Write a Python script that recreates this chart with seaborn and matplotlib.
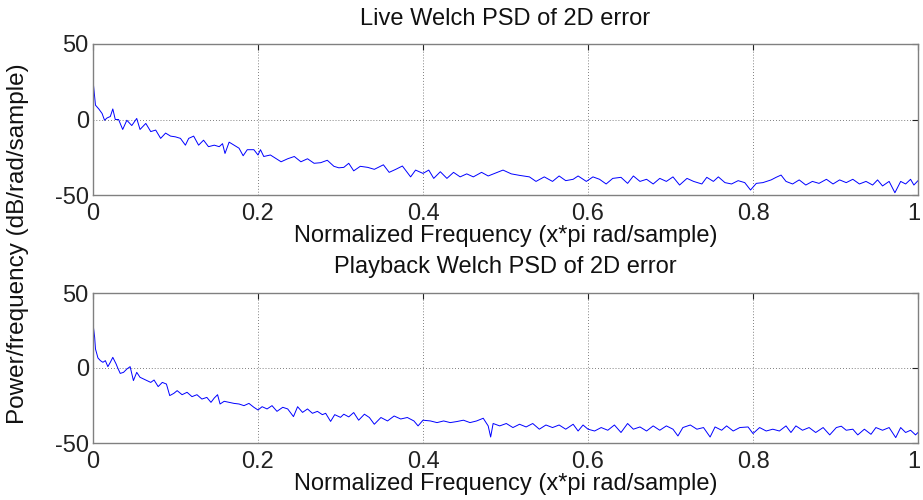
import matplotlib
matplotlib.use("Agg")
import matplotlib.pyplot as plt
import matplotlib.transforms as mtransforms
import seaborn as sns
import pandas as pd

# ---- data (normalized frequency, dB/rad/sample) ----
live_freq = [
    0.000, 0.003, 0.007, 0.011, 0.014, 0.017, 0.021, 0.024, 0.027, 0.031,
    0.036, 0.041, 0.047, 0.053, 0.057, 0.064, 0.070, 0.076, 0.082, 0.088,
    0.094, 0.100, 0.106, 0.112, 0.116, 0.122, 0.128, 0.134, 0.140, 0.147,
    0.153, 0.157, 0.160, 0.165, 0.171, 0.177, 0.182, 0.187, 0.195, 0.200,
    0.203, 0.207, 0.215, 0.228, 0.236, 0.244, 0.252, 0.260, 0.268, 0.276,
    0.284, 0.292, 0.298,
    0.304, 0.310, 0.316, 0.324, 0.333, 0.341, 0.352, 0.359, 0.367, 0.375,
    0.385, 0.391, 0.400, 0.407, 0.413, 0.421, 0.429, 0.437, 0.445, 0.453,
    0.461, 0.471, 0.479, 0.487, 0.497, 0.507, 0.517, 0.529, 0.537, 0.547,
    0.557, 0.565, 0.573, 0.582, 0.588, 0.598, 0.606, 0.614, 0.622, 0.630,
    0.640, 0.648,
    0.655, 0.663, 0.671, 0.679, 0.687, 0.695, 0.703, 0.711, 0.720, 0.728,
    0.738, 0.744, 0.752, 0.758, 0.766, 0.774, 0.782, 0.790, 0.797, 0.804,
    0.812, 0.822, 0.828, 0.834, 0.840, 0.848, 0.856, 0.864, 0.872, 0.880,
    0.889, 0.897, 0.905, 0.913, 0.921, 0.929, 0.937, 0.945, 0.951, 0.957,
    0.965, 0.972, 0.979, 0.985, 0.991, 0.995, 1.000,
]
live_db = [
    26.0, 9.5, 7.0, 4.0, -0.5, 1.0, 2.0, 7.0, 0.0, 0.0,
    -6.6, -0.5, -4.0, 0.7, -6.6, -2.6, -8.0, -7.0, -12.5, -9.0,
    -11.0, -11.5, -12.5, -17.0, -12.5, -11.0, -17.0, -13.7, -18.0, -17.0,
    -18.0, -16.0, -22.5, -15.0, -17.0, -19.0, -24.0, -20.0, -20.0, -23.5,
    -20.0, -24.5, -23.5, -28.0, -26.0, -24.5, -28.0, -26.0, -29.0, -28.6,
    -27.0, -31.0, -32.0,
    -31.7, -29.0, -34.0, -31.0, -31.7, -33.0, -30.0, -35.0, -33.0, -30.8,
    -38.0, -33.5, -35.7, -33.5, -39.0, -34.6, -39.0, -35.0, -38.0, -36.0,
    -38.0, -35.0, -37.4, -35.7, -33.5, -36.0, -37.0, -38.0, -41.0, -38.0,
    -41.0, -37.4, -40.5, -39.6, -37.4, -41.0, -38.0, -39.6, -42.7, -39.0,
    -38.3, -42.3,
    -37.4, -41.0, -39.6, -42.7, -39.0, -41.0, -38.0, -43.4, -39.0, -41.0,
    -42.7, -38.3, -41.0, -38.0, -41.8, -42.7, -40.5, -41.8, -46.7, -42.3,
    -41.8, -40.0, -38.3, -36.8, -41.0, -42.7, -40.0, -43.4, -41.0, -42.3,
    -39.6, -42.7, -40.0, -41.8, -39.6, -42.7, -41.0, -43.4, -40.0, -44.0,
    -41.0, -48.5, -41.0, -42.7, -39.6, -43.4, -40.5,
]

play_freq = [
    0.000, 0.002, 0.003, 0.006, 0.009, 0.012, 0.015, 0.018, 0.021, 0.024,
    0.028, 0.030, 0.033, 0.037, 0.041, 0.045, 0.049, 0.053, 0.057, 0.064,
    0.070, 0.074, 0.079, 0.084, 0.089, 0.093, 0.098, 0.102, 0.108, 0.114,
    0.120, 0.126, 0.132, 0.138, 0.143, 0.147, 0.151, 0.154, 0.159, 0.165,
    0.171, 0.177, 0.183, 0.189, 0.195, 0.200, 0.205, 0.211, 0.217, 0.223,
    0.230, 0.236, 0.243, 0.248, 0.254, 0.260, 0.266, 0.272, 0.278, 0.282,
    0.288, 0.293, 0.300,
    0.304, 0.310, 0.316, 0.322, 0.329, 0.335, 0.341, 0.349, 0.357, 0.365,
    0.373, 0.381, 0.389, 0.394, 0.400, 0.409, 0.417, 0.425, 0.433, 0.441,
    0.449, 0.457, 0.465, 0.473, 0.479, 0.482, 0.485, 0.493, 0.501, 0.509,
    0.517, 0.525, 0.533, 0.541, 0.549, 0.557, 0.565, 0.573, 0.582, 0.588,
    0.594, 0.600, 0.608, 0.616, 0.624, 0.632, 0.640, 0.648,
    0.655, 0.663, 0.671, 0.679, 0.687, 0.695, 0.703, 0.709, 0.715, 0.724,
    0.732, 0.740, 0.748, 0.754, 0.762, 0.768, 0.776, 0.784, 0.794, 0.800,
    0.808, 0.816, 0.824, 0.832, 0.840, 0.846, 0.852, 0.860, 0.868, 0.876,
    0.885, 0.893, 0.901, 0.907, 0.913, 0.921, 0.927, 0.935, 0.943, 0.949,
    0.957, 0.965, 0.973, 0.979, 0.985, 0.991, 0.997, 1.000,
]
play_db = [
    29.5, 20.5, 12.7, 6.7, 4.9, 3.8, 4.9, 0.9, 3.8, 7.1,
    2.7, 0.0, -3.6, -2.9, -0.7, 0.9, -8.4, -2.9, -6.2, -8.0,
    -9.6, -8.0, -12.4, -9.6, -10.7, -18.4, -16.9, -15.1, -17.8, -16.2,
    -19.1, -17.8, -20.7, -19.6, -22.9, -20.0, -17.8, -24.0, -22.2, -22.9,
    -23.6, -24.0, -25.1, -23.6, -26.2, -28.0, -25.8, -27.3, -25.1, -28.9,
    -26.2, -27.3, -32.4, -25.8, -29.6, -27.3, -30.2, -28.9, -31.1, -30.2,
    -35.6, -31.1, -32.9,
    -30.8, -32.6, -29.7, -34.8, -30.8, -33.0, -37.5, -33.0, -35.3, -32.0,
    -34.0, -33.0, -35.3, -38.6, -34.8, -35.3, -36.4, -35.3, -36.4, -35.7,
    -34.8, -36.4, -35.3, -33.5, -38.6, -46.0, -37.0, -38.6, -37.0, -39.7,
    -37.5, -39.3, -37.0, -40.8, -38.0, -39.7, -38.0, -40.8, -37.5, -42.0,
    -38.0, -40.8, -42.0, -39.7, -41.5, -38.0, -43.0, -37.0,
    -40.8, -39.3, -42.0, -38.6, -41.5, -38.6, -40.8, -45.3, -39.7, -38.0,
    -40.8, -39.7, -46.0, -39.3, -41.5, -38.6, -42.0, -39.7, -39.3, -43.7,
    -39.7, -42.0, -40.8, -42.0, -38.6, -43.0, -38.6, -41.5, -39.7, -43.0,
    -39.7, -44.6, -39.7, -38.8, -41.5, -40.8, -44.6, -40.8, -44.2, -39.7,
    -41.5, -39.7, -46.4, -39.7, -43.0, -41.5, -44.6, -43.0,
]

titles = ["Live Welch PSD of 2D error", "Playback Welch PSD of 2D error"]
x_label = "Normalized Frequency (x*pi rad/sample)"
y_label = "Power/frequency (dB/rad/sample)"
x_ticks = [0, 0.2, 0.4, 0.6, 0.8, 1]
x_tick_labels = ["0", "0.2", "0.4", "0.6", "0.8", "1"]
y_ticks = [-50, 0, 50]
y_tick_labels = ["-50", "0", "50"]

sns.set_style("white")
plt.rcParams["font.family"] = ["Liberation Sans", "DejaVu Sans"]

W, H = 923, 500
fig = plt.figure(figsize=(W / 100, H / 100), dpi=100)

def px_axes(left, top, right, bottom):
    return fig.add_axes([left / W, 1 - bottom / H, (right - left) / W, (bottom - top) / H])

ax1 = px_axes(93, 44, 918, 195)
ax2 = px_axes(93, 293, 918, 443)

frames = [
    pd.DataFrame({"freq": live_freq, "db": live_db}),
    pd.DataFrame({"freq": play_freq, "db": play_db}),
]

FS = 17
title_pads = [13.5, 14.5]
shift_left = mtransforms.ScaledTranslation(-4 / 100, 0, fig.dpi_scale_trans)
for ax, df, title, tpad in zip([ax1, ax2], frames, titles, title_pads):
    sns.lineplot(data=df, x="freq", y="db", ax=ax, color="#0000ff",
                 linewidth=0.7, estimator=None, sort=False)
    ax.set_xlim(0, 1)
    ax.set_ylim(-50, 50)
    ax.set_xticks(x_ticks)
    ax.set_xticklabels(x_tick_labels)
    ax.set_yticks(y_ticks)
    ax.set_yticklabels(y_tick_labels)
    ax.grid(True, linestyle=(0, (1, 2.5)), color="#555555", linewidth=0.6)
    ax.tick_params(direction="in", length=4, width=0.8, colors="#222222",
                   labelsize=FS, top=True, right=True)
    ax.tick_params(axis="x", pad=6)
    ax.tick_params(axis="y", pad=3)
    for s in ax.spines.values():
        s.set_color("#808080")
        s.set_linewidth(1.0)
        s.set_visible(True)
    # keep the last tick label ("1") inside the figure, as in the reference
    last = ax.get_xticklabels()[-1]
    last.set_transform(last.get_transform() + shift_left)
    ax.set_title(title, fontsize=FS, pad=tpad, color="#111111")
    ax.set_xlabel(x_label, fontsize=FS, labelpad=0, color="#111111")
    ax.set_ylabel("")

fig.text(18 / W, 1 - 244 / H, y_label, rotation=90, ha="center", va="center",
         fontsize=FS + 0.5, color="#111111")

fig.savefig("out.png", dpi=100, facecolor="white")
